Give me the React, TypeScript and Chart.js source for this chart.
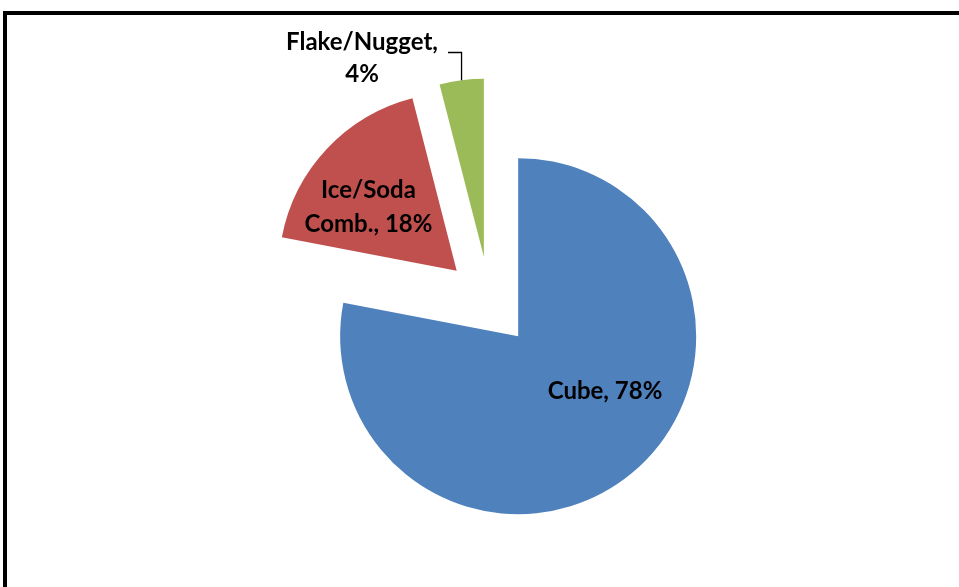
import React, { useEffect, useRef } from "react";
import { Chart, registerables } from "chart.js";

Chart.register(...registerables);

// ---- data ----
const categories = ["Cube", "Ice/Soda Comb.", "Flake/Nugget"];
const shares = [78, 18, 4];
const sliceColors = ["#4F81BD", "#C0504D", "#9BBB59"];
// how each data label is broken into lines ("Category, NN%")
const labelBreaks = [[], ["Ice/Soda", "Comb., 18%"], ["Flake/Nugget,", "4%"]];

// ---- styling / layout constants ----
const PIE_RADIUS = 178;
const EXPLODE = 45;
const LABEL_FONT = "bold 24px Lato, 'DejaVu Sans', sans-serif";
// label anchor offsets from the pie centre (text centre x, first baseline y), line height
const labelAnchors = [
  { dx: 115.5, dy: 97, lh: 34 },
  { dx: -121, dy: -103.3, lh: 34 },
  { dx: -127.5, dy: -251.3, lh: 31.7 },
];

function labelLines(i: number): string[] {
  const br = labelBreaks[i];
  if (br && br.length) return br;
  return [`${categories[i]}, ${shares[i]}%`];
}

const explodePlugin = {
  id: "explode",
  afterDatasetsUpdate(chart: any) {
    const meta = chart.getDatasetMeta(0);
    const ca = chart.chartArea;
    const cx = (ca.left + ca.right) / 2;
    const cy = (ca.top + ca.bottom) / 2;
    meta.data.forEach((arc: any) => {
      const mid = (arc.startAngle + arc.endAngle) / 2;
      arc.x = cx + Math.cos(mid) * EXPLODE;
      arc.y = cy + Math.sin(mid) * EXPLODE;
    });
  },
};

const decorPlugin = {
  id: "decor",
  afterDraw(chart: any) {
    const ctx = chart.ctx;
    const ca = chart.chartArea;
    const cx = (ca.left + ca.right) / 2;
    const cy = (ca.top + ca.bottom) / 2;
    ctx.save();
    // frame
    ctx.strokeStyle = "#000";
    ctx.lineWidth = 4;
    ctx.strokeRect(5, 13, 1200, 900);
    // labels
    ctx.fillStyle = "#000";
    ctx.font = LABEL_FONT;
    ctx.textAlign = "center";
    ctx.textBaseline = "alphabetic";
    labelAnchors.forEach((a, i) => {
      labelLines(i).forEach((t, j) => {
        ctx.fillText(t, cx + a.dx, cy + a.dy + j * a.lh);
      });
    });
    // leader line for the small slice (to the middle of its outer edge)
    const meta = chart.getDatasetMeta(0);
    const arc = meta.data[2];
    const mid = (arc.startAngle + arc.endAngle) / 2;
    const px = arc.x + Math.cos(mid) * arc.outerRadius;
    const py = arc.y + Math.sin(mid) * arc.outerRadius;
    ctx.strokeStyle = "#000";
    ctx.lineWidth = 1.3;
    ctx.beginPath();
    ctx.moveTo(cx - 41.5, cy - 249);
    ctx.lineTo(px, cy - 249);
    ctx.lineTo(px, py);
    ctx.stroke();
    ctx.restore();
  },
};

export default function App() {
  const ref = useRef<HTMLCanvasElement | null>(null);
  useEffect(() => {
    if (!ref.current) return;
    const chart = new Chart(ref.current, {
      type: "pie",
      data: {
        labels: categories,
        datasets: [
          {
            data: shares,
            backgroundColor: sliceColors,
            borderWidth: 0,
            radius: PIE_RADIUS,
          } as any,
        ],
      },
      options: {
        responsive: false,
        animation: false,
        events: [],
        layout: { padding: { left: 60, right: 40, top: 60, bottom: 44 } },
        plugins: {
          legend: { display: false },
          tooltip: { enabled: false },
        },
      },
      plugins: [explodePlugin, decorPlugin],
    });
    return () => chart.destroy();
  }, []);
  return (
    <div style={{ position: "fixed", left: 0, top: 0, width: 959, height: 587, background: "#fff" }}>
      <canvas ref={ref} width={959} height={587} />
    </div>
  );
}
